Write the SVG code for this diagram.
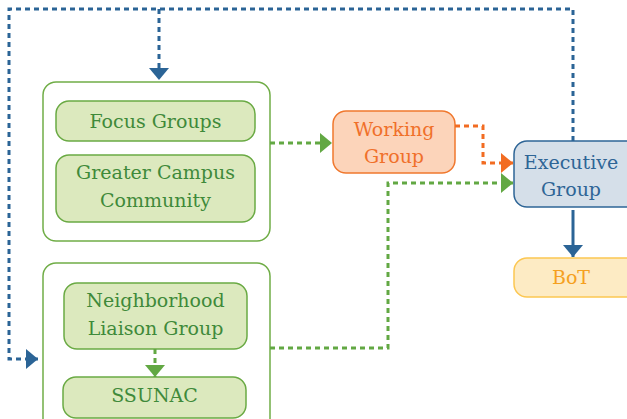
<svg xmlns="http://www.w3.org/2000/svg" width="627" height="419" viewBox="0 0 627 419">
<defs>
<marker id="ab" markerUnits="userSpaceOnUse" markerWidth="12" markerHeight="20" refX="12" refY="10" orient="auto"><path d="M0,0 L12,10 L0,20 z" fill="#2b6496"/></marker>
<marker id="ag" markerUnits="userSpaceOnUse" markerWidth="12" markerHeight="20" refX="12" refY="10" orient="auto"><path d="M0,0 L12,10 L0,20 z" fill="#62a843"/></marker>
<marker id="ao" markerUnits="userSpaceOnUse" markerWidth="12" markerHeight="20" refX="12" refY="10" orient="auto"><path d="M0,0 L12,10 L0,20 z" fill="#f26c22"/></marker>
</defs>
<style>
text{font-family:"DejaVu Serif","Liberation Serif",serif;font-size:19px;text-anchor:middle;dominant-baseline:central}
.outer{fill:#fff;stroke:#70ad47;stroke-width:1.5}
.gb{fill:#dce9be;stroke:#6aaa44;stroke-width:1.5}
.gt{fill:#3f8a3a}
.db{fill:none;stroke:#2b6496;stroke-width:3;stroke-dasharray:5 4}
.dg{fill:none;stroke:#62a843;stroke-width:3;stroke-dasharray:5 4}
.do{fill:none;stroke:#f26c22;stroke-width:3;stroke-dasharray:5 4}
</style>
<g id="group1"><rect class="outer" x="43" y="82" width="227" height="159" rx="13"/></g>
<g id="focus"><rect class="gb" x="56" y="101" width="199" height="40" rx="13"/><text class="gt" x="155.5" y="121">Focus Groups</text></g>
<g id="greater"><rect class="gb" x="56" y="155" width="199" height="67" rx="13"/><text class="gt" x="155.5" y="172">Greater Campus</text><text class="gt" x="155.5" y="200">Community</text></g>
<g id="group2"><rect class="outer" x="43" y="263" width="227" height="170" rx="13"/></g>
<g id="nlg"><rect class="gb" x="64" y="283" width="183" height="66" rx="13"/><text class="gt" x="155.5" y="300">Neighborhood</text><text class="gt" x="155.5" y="328">Liaison Group</text></g>
<g id="ssunac"><rect class="gb" x="63" y="377" width="183" height="41" rx="13"/><text class="gt" x="154.5" y="395">SSUNAC</text></g>
<g id="working"><rect x="333" y="111" width="122" height="62" rx="13" fill="#fcd4ba" stroke="#f0782e" stroke-width="1.5"/><text x="394" y="129" fill="#f0702a">Working</text><text x="394" y="156" fill="#f0702a">Group</text></g>
<g id="executive"><rect x="514" y="141" width="125" height="66" rx="13" fill="#d5dfe9" stroke="#2e6596" stroke-width="1.5"/><text x="571" y="162" fill="#2e6596">Executive</text><text x="571" y="189" fill="#2e6596">Group</text></g>
<g id="bot"><rect x="514" y="258" width="125" height="39" rx="13" fill="#fdebc4" stroke="#fcc752" stroke-width="1.5"/><text x="571" y="277" fill="#f5a020">BoT</text></g>
<g id="connectors">
<path class="db" d="M573,141 V9 H9 V359 H38" marker-end="url(#ab)"/>
<path class="db" d="M159,9 V80" marker-end="url(#ab)"/>
<path class="dg" d="M270,143 H332" marker-end="url(#ag)"/>
<path class="do" d="M455,126 H483 V163 H513" marker-end="url(#ao)"/>
<path class="dg" d="M270,348 H388 V183 H513" marker-end="url(#ag)"/>
<path class="dg" d="M155,349 V377" marker-end="url(#ag)"/>
<path d="M573,210 V257" fill="none" stroke="#2b6496" stroke-width="3" marker-end="url(#ab)"/>
</g>
</svg>
